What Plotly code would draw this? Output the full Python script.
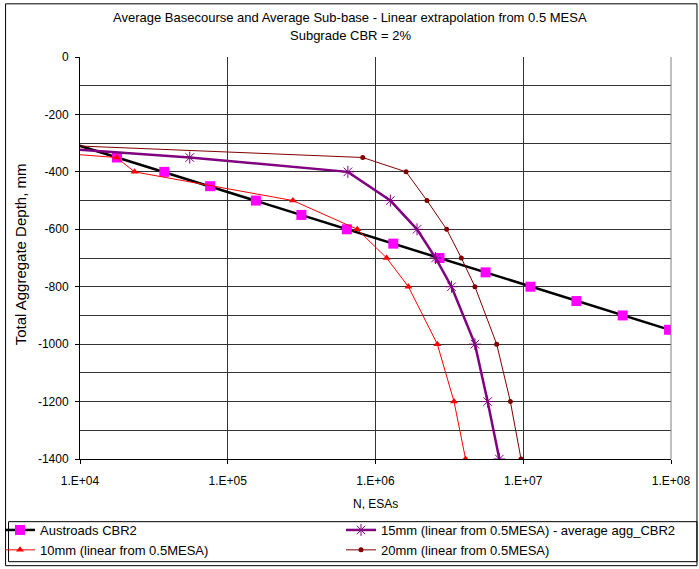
import plotly.graph_objects as go

# ---- data ----
austroads_n = [8.7e3, 1.78e4, 3.72e4, 7.6e4, 1.55e5, 3.15e5, 6.4e5, 1.32e6, 2.71e6, 5.56e6,
               1.12e7, 2.29e7, 4.71e7, 9.7e7, 2.0e8]
austroads_d = [-300, -350, -400, -450, -500, -550, -600, -650, -700, -750, -800, -850, -900, -950, -1000]

mm15_n = [2.3e3, 5.53e4, 6.5e5, 1.26e6, 1.91e6, 2.55e6, 3.27e6, 4.71e6, 5.74e6, 6.89e6]
mm15_d = [-300, -350, -400, -500, -600, -700, -800, -1000, -1200, -1400]

mm10_n = [9.0e2, 1.77e4, 2.34e4, 2.76e5, 7.53e5, 1.19e6, 1.67e6, 2.62e6, 3.40e6, 4.07e6]
mm10_d = [-300, -350, -400, -500, -600, -700, -800, -1000, -1200, -1400]

mm20_n = [3.3e3, 8.2e5, 1.61e6, 2.23e6, 3.03e6, 3.81e6, 4.71e6, 6.61e6, 8.18e6, 9.66e6]
mm20_d = [-300, -350, -400, -500, -600, -700, -800, -1000, -1200, -1400]

x_tickvals = [1e4, 1e5, 1e6, 1e7, 1e8]
x_ticktext = ["1.E+04", "1.E+05", "1.E+06", "1.E+07", "1.E+08"]
y_tickvals = [0, -200, -400, -600, -800, -1000, -1200, -1400]
y_ticktext = ["0", "-200", "-400", "-600", "-800", "-1000", "-1200", "-1400"]

names = ["Austroads CBR2", "15mm (linear from 0.5MESA) - average agg_CBR2",
         "10mm (linear from 0.5MESA)", "20mm (linear from 0.5MESA)"]
title_lines = ["Average Basecourse and Average Sub-base - Linear extrapolation from 0.5 MESA",
               "Subgrade CBR = 2%"]
x_title = "N, ESAs"
y_title = "Total Aggregate Depth, mm"

FONT = "Liberation Sans, Arial, sans-serif"
W, H = 699, 569
L, R, T, B = 79.5, 671, 57.2, 459.3  # plot area pixel bounds


def px_x(p):
    return (p - L) / (R - L)


def px_y(p):
    return (B - p) / (B - T)


fig = go.Figure()
fig.add_trace(go.Scatter(x=austroads_n, y=austroads_d, name=names[0], mode="lines+markers",
                         legend="legend",
                         line=dict(color="black", width=2.5),
                         marker=dict(symbol="square", size=10, color="#FF00FF")))
fig.add_trace(go.Scatter(x=mm15_n, y=mm15_d, name=names[1], mode="lines+markers",
                         legend="legend2",
                         line=dict(color="#800080", width=2.5),
                         marker=dict(symbol="asterisk-open", size=10, color="#800080",
                                     line=dict(color="#800080", width=1))))
fig.add_trace(go.Scatter(x=mm10_n, y=mm10_d, name=names[2], mode="lines+markers",
                         legend="legend",
                         line=dict(color="#FF0000", width=1),
                         marker=dict(symbol="triangle-up", size=7, color="#FF0000")))
fig.add_trace(go.Scatter(x=mm20_n, y=mm20_d, name=names[3], mode="lines+markers",
                         legend="legend2",
                         line=dict(color="#800000", width=1),
                         marker=dict(symbol="circle", size=5, color="#800000")))

grid = "#333333"
legend_common = dict(orientation="v", xref="container", yref="container",
                     xanchor="left", yanchor="top", itemwidth=30,
                     font=dict(family=FONT, size=13, color="black"),
                     bgcolor="rgba(0,0,0,0)", tracegroupgap=0, traceorder="normal")
fig.update_layout(
    width=W, height=H,
    margin=dict(l=L, r=W - R, t=T, b=H - B, pad=0, autoexpand=False),
    paper_bgcolor="white", plot_bgcolor="white",
    font=dict(family=FONT, size=12, color="black"),
    xaxis=dict(type="log", range=[4, 8], tickvals=x_tickvals, ticktext=x_ticktext,
               showgrid=True, gridcolor=grid, gridwidth=1, ticks="outside", ticklen=4,
               tickcolor="black", showline=True, linecolor="black", linewidth=1,
               zeroline=False, ticklabelstandoff=7, tickfont=dict(size=12)),
    yaxis=dict(range=[-1400, 0], tickvals=y_tickvals, ticktext=y_ticktext, showgrid=True,
               gridcolor=grid, gridwidth=1, ticks="outside", ticklen=4, tickcolor="black",
               showline=True, linecolor="black", linewidth=1, zeroline=False,
               ticklabelstandoff=4, tickfont=dict(size=12),
               minor=dict(dtick=100, tick0=0, showgrid=True, gridcolor=grid, gridwidth=1)),
    legend=dict(x=0.0, y=1 - 515 / H, **legend_common),
    legend2=dict(x=341 / W, y=1 - 515 / H, **legend_common),
    showlegend=True,
)

# title lines and axis titles
fig.add_annotation(text=title_lines[0], xref="paper", yref="paper", x=px_x(350), y=px_y(18),
                   xanchor="center", yanchor="middle", showarrow=False, font=dict(size=13))
fig.add_annotation(text=title_lines[1], xref="paper", yref="paper", x=px_x(350), y=px_y(36),
                   xanchor="center", yanchor="middle", showarrow=False, font=dict(size=13))
fig.add_annotation(text=x_title, xref="paper", yref="paper", x=px_x(375), y=px_y(504),
                   xanchor="center", yanchor="middle", showarrow=False, font=dict(size=12))
fig.add_annotation(text=y_title, xref="paper", yref="paper", x=px_x(20), y=px_y(255),
                   xanchor="center", yanchor="middle", showarrow=False, textangle=-90,
                   font=dict(size=15))

# outer chart border and legend box
fig.add_shape(type="rect", xref="paper", yref="paper",
              x0=px_x(5), x1=px_x(697), y0=px_y(566), y1=px_y(4),
              line=dict(color="black", width=1), fillcolor="rgba(0,0,0,0)", layer="below")
fig.add_shape(type="rect", xref="paper", yref="paper",
              x0=px_x(8), x1=px_x(697), y0=px_y(562), y1=px_y(522),
              line=dict(color="black", width=1), fillcolor="rgba(0,0,0,0)", layer="below")
# plot-area right edge line
fig.add_shape(type="line", xref="paper", yref="paper", x0=1, x1=1, y0=0, y1=1,
              line=dict(color="#808080", width=1))

fig.write_html("out.html")
